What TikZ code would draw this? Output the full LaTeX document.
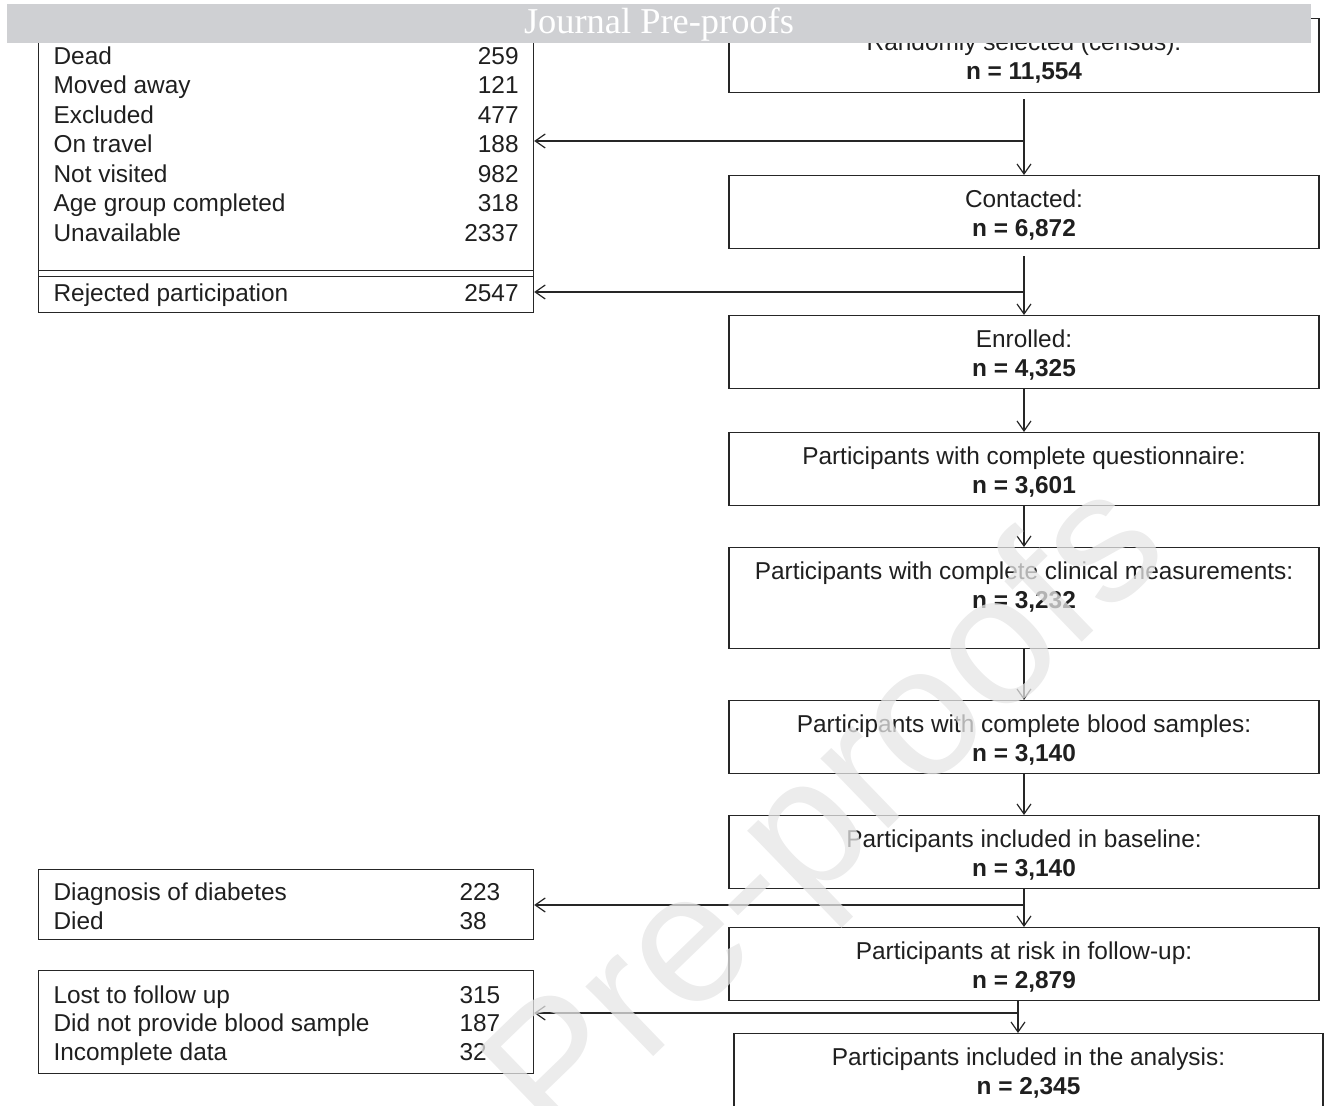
\documentclass[tikz,border=0pt]{standalone}
\usepackage{fontspec}
\setmainfont{Liberation Sans}
\newfontfamily\bannerfont{Liberation Serif}
\usetikzlibrary{arrows.meta}
\definecolor{bannergray}{RGB}{207,208,211}
\tikzset{>={Straight Barb[length=5pt,width=7pt]}}
\tikzset{
  stage/.style = {draw=black!85, line width=0.6pt, minimum width=295pt,
    inner sep=0pt, text=black!88, text height=16.1pt, text depth=20.4pt,
    anchor=north, font=\fontsize{12.2}{14.5}\selectfont},
  side/.style = {draw=black!85, line width=0.6pt, minimum width=247.5pt,
    inner xsep=7.5pt, inner ysep=0pt, text=black!88, anchor=north west,
    font=\fontsize{12.2}{14.5}\selectfont},
  link/.style = {->, draw=black!85, line width=0.6pt},
  watermark/.style = {text=black!10, text opacity=0.75, rotate=44,
    font=\fontsize{92}{92}\selectfont}
}
\newcommand{\nval}[1]{\textbf{n = #1}}
\newcommand{\stagetext}[2]{\begin{tabular}[t]{@{}c@{}}#1\\\nval{#2}\end{tabular}}

\begin{document}
\begin{tikzpicture}[x=0.5pt,y=-0.5pt]
  \useasboundingbox (0,0) rectangle (1324,1106);
  % main column
  \node[stage,text depth=20.9pt] (census) at (1024,18) {\stagetext{Randomly selected (census):}{11,554}};
  \node[stage] (contacted) at (1024,175) {\stagetext{Contacted:}{6,872}};
  \node[stage] (enrolled) at (1024,315) {\stagetext{Enrolled:}{4,325}};
  \node[stage] (quest) at (1024,432) {\stagetext{Participants with complete questionnaire:}{3,601}};
  \node[stage,text depth=34.4pt] (clinical) at (1024,547) {\stagetext{Participants with complete clinical measurements:}{3,232}};
  \node[stage] (blood) at (1024,700) {\stagetext{Participants with complete blood samples:}{3,140}};
  \node[stage] (baseline) at (1024,815) {\stagetext{Participants included in baseline:}{3,140}};
  \node[stage] (atrisk) at (1024,927) {\stagetext{Participants at risk in follow-up:}{2,879}};
  \node[stage,minimum width=294.5pt] (analysis) at (1028.5,1033) {\stagetext{Participants included in the analysis:}{2,345}};

  % side boxes
  \node[side,text height=13.4pt,text depth=106.1pt,font=\fontsize{12.2}{14.75}\selectfont] (excl) at (38,37) {%
    \begin{tabular*}{232.5pt}[t]{@{}l@{\extracolsep{\fill}}r@{}}
      Dead & 259\\
      Moved away & 121\\
      Excluded & 477\\
      On travel & 188\\
      Not visited & 982\\
      Age group completed & 318\\
      Unavailable & 2337
    \end{tabular*}};
  \node[side,text height=12.35pt,text depth=5.65pt] (rejected) at (38,276) {%
    \begin{tabular*}{232.5pt}[t]{@{}l@{\extracolsep{\fill}}r@{}}
      Rejected participation & 2547
    \end{tabular*}};
  \draw[draw=black!85,line width=0.6pt] ([yshift=3.5pt]excl.south west) -- ([yshift=3.5pt]excl.south east);
  \node[side,text height=15.6pt,text depth=19.4pt] (diab) at (38,869) {%
    \begin{tabular}[t]{@{}p{191pt}p{29.5pt}@{}}
      Diagnosis of diabetes & 223\\
      Died & 38
    \end{tabular}};
  \node[side,text height=16.35pt,text depth=35.15pt,font=\fontsize{12.2}{14.25}\selectfont] (lost) at (38,970) {%
    \begin{tabular}[t]{@{}p{191pt}p{29.5pt}@{}}
      Lost to follow up & 315\\
      Did not provide blood sample & 187\\
      Incomplete data & 32
    \end{tabular}};

  % connectors
  \draw[link,shorten <=3pt] (census) -- (contacted);
  \draw[link,shorten <=3.5pt] (contacted) -- (enrolled);
  \draw[link] (enrolled) -- (quest);
  \draw[link] (quest) -- (clinical);
  \draw[link] (clinical) -- (blood);
  \draw[link] (blood) -- (baseline);
  \draw[link] (baseline) -- (atrisk);
  \coordinate (j4) at (1018,1013);
  \draw[link] (j4 |- atrisk.south) -- (j4 |- analysis.north);

  \coordinate (j1) at (1024,141);
  \coordinate (j2) at (1024,292);
  \coordinate (j3) at (1024,905);
  \draw[link] (j1) -- (j1 -| excl.east);
  \draw[link] (j2) -- (j2 -| rejected.east);
  \draw[link] (j3) -- (j3 -| diab.east);
  \draw[link] (j4) -- (j4 -| lost.east);

  % watermark and banner
  \begin{scope}
    \clip (0,0) rectangle (1324,1106);
    \node[watermark] (wm) at (832,818) {Pre-proofs};
  \end{scope}
  \fill[bannergray] (7,4) rectangle (1311,43);
  \node[anchor=base,text=white,font=\bannerfont\fontsize{18.2}{20}\selectfont] (journal) at (659,34) {Journal Pre-proofs};
\end{tikzpicture}
\end{document}
